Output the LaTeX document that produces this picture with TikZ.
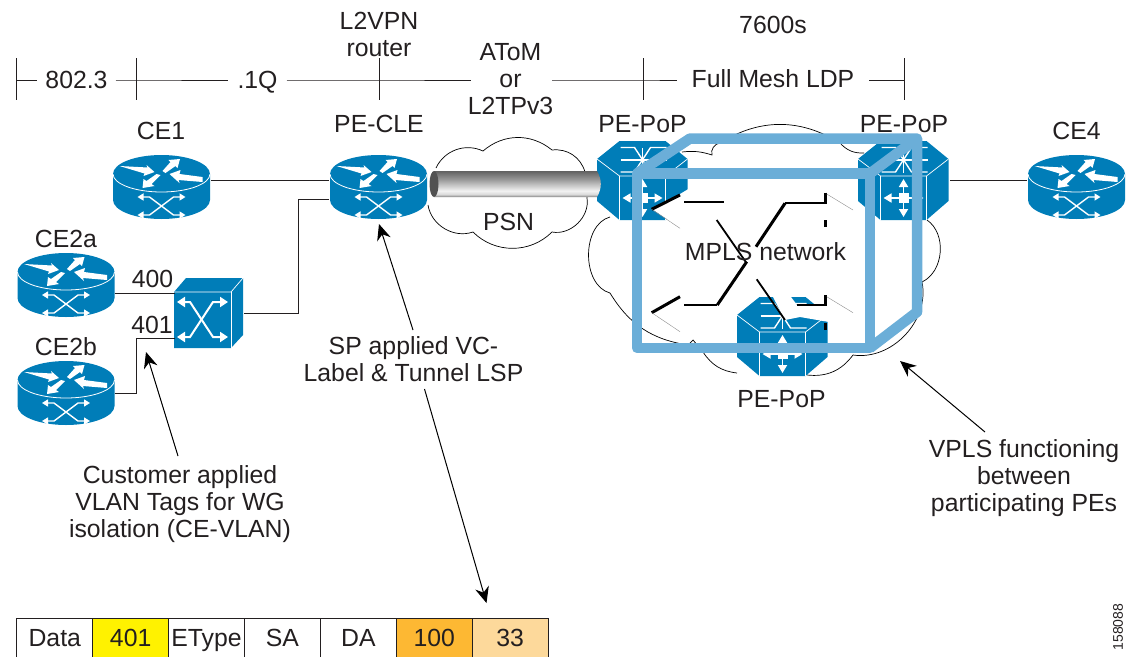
\documentclass[tikz,border=0pt]{standalone}
\usepackage{fontspec}
\setmainfont{Liberation Sans}
\usepackage{tikz}
\usetikzlibrary{arrows.meta, positioning}
\definecolor{ciscoblue}{RGB}{0,125,184}
\definecolor{cubeblue}{RGB}{107,174,216}
\definecolor{inkgray}{RGB}{35,31,32}
\definecolor{tagyellow}{RGB}{255,242,0}
\definecolor{tagorange}{RGB}{253,184,51}
\definecolor{tagpeach}{RGB}{253,217,155}
\pgfdeclareverticalshading{tubeshade}{100bp}{color(0bp)=(black!50); color(25bp)=(black!50); color(30bp)=(black!15); color(37bp)=(black!5); color(45bp)=(black!18); color(60bp)=(black!42); color(75bp)=(black!62); color(100bp)=(black!62)}
\tikzset{
  icon/.style={inner sep=0pt, outer sep=0pt, minimum width=#1},
  lbl/.style={font=\fontsize{24.8}{27}\selectfont, text=inkgray, inner sep=0pt, anchor=base},
  multi/.style={font=\fontsize{24.8}{27}\selectfont, text=inkgray, inner sep=0pt, align=center},
  wire/.style={draw=inkgray, line width=0.9pt},
  note/.style={draw=black, line width=1pt, -{Stealth[length=16pt,width=14pt]}},
  cloudline/.style={draw=black, line width=0.7pt},
  frag/.style={draw=black, line width=3pt},
  fragthin/.style={draw=black, line width=1.8pt},
  fraggray/.style={draw=black!45, line width=0.4pt},
  cell/.style={draw=inkgray, line width=0.9pt, minimum width=75.9pt, minimum height=42pt, inner sep=0pt, outer sep=0pt, text height=14pt, text depth=0pt, font=\fontsize{24.8}{27}\selectfont, text=inkgray},
  router/.pic={
    % body and top of the router
    \fill[ciscoblue] (-48.5,-13) arc[start angle=180, end angle=0, x radius=48.5, y radius=-19] -- (48.5,13) arc[start angle=0, end angle=-180, x radius=48.5, y radius=-19] -- cycle;
    \draw[white, line width=0.8pt] (-48.5,-13) arc[start angle=180, end angle=360, x radius=48.5, y radius=-18];
    % four arrows on the top
    \fill[white] (-42,-21) -- (-14,-19.5) -- (-15,-22) -- (-7,-15) -- (-18,-11) -- (-17,-13.5) -- cycle;
    \fill[white] (1,-16) -- (9,-25) -- (7,-27) -- (18.5,-28) -- (16,-19) -- (14,-21) -- (4,-14) -- cycle;
    \fill[white] (41,-10) -- (41,-5) -- (17,-7) -- (18,-4) -- (8,-13) -- (19,-17) -- (18,-13) -- cycle;
    \fill[white] (-1,-12) -- (-10,-3) -- (-7,-1) -- (-19,1) -- (-18,-8) -- (-15,-6) -- (-5,-13) -- cycle;
    % crossing arrows on the side
    \draw[white, line width=1.4pt, {Triangle[length=6pt,width=7pt]}-{Triangle[length=6pt,width=7pt]}] (-24,10) -- (-12,10) -- (12,28) -- (24,28);
    \draw[white, line width=1.4pt, {Triangle[length=6pt,width=7pt]}-{Triangle[length=6pt,width=7pt]}] (-24,28) -- (-12,28) -- (12,10) -- (24,10);
  },
  switchbox/.pic={
    \fill[ciscoblue] (-35,-21) -- (-23,-35) -- (34,-35) -- (34,22) -- (22,35) -- (-35,35) -- cycle;
    \draw[white, line width=0.7pt] (-35,-21) -- (22,-21) -- (34,-35);
    \draw[white, line width=0.7pt] (22,-21) -- (22,35);
    \draw[white, line width=2pt, {Triangle[length=8pt,width=10pt]}-{Triangle[length=8pt,width=10pt]}] (-32,-11) -- (-19,-11) -- (4,24) -- (19,24);
    \draw[white, line width=2pt, {Triangle[length=8pt,width=10pt]}-{Triangle[length=8pt,width=10pt]}] (-32,24) -- (-19,24) -- (4,-11) -- (19,-11);
  },
  popbox/.pic={
    \fill[ciscoblue] (-23,-40) -- (23,-40) -- (45,-22) -- (45,20) -- (23,39) -- (-23,39) -- (-45.5,20) -- (-45.5,-22) -- cycle;
    \draw[white, line width=0.7pt] (-45.5,-22) -- (-23,-5) -- (23,-5) -- (45,-22);
    \draw[white, line width=0.7pt] (-23,-5) -- (-23,39) (23,-5) -- (23,39);
    % star on the top
    \draw[white, line width=1.4pt] (-22,-33.5) -- (-8,-33.5) -- (8,-9) -- (24,-9);
    \draw[white, line width=1.4pt] (-22,-9) -- (-8,-9) -- (8,-33.5) -- (24,-33.5);
    \draw[white, line width=1.4pt] (-22,-21) -- (24,-21) (0,-33) -- (0,-8);
    % arrows in the front
    \draw[white, line width=1.7pt, {Triangle[length=8pt,width=9pt]}-{Triangle[length=8pt,width=9pt]}] (-20,17) -- (20,17);
    \draw[white, line width=1.7pt, {Triangle[length=8pt,width=9pt]}-{Triangle[length=8pt,width=9pt]}] (0,-2) -- (0,36);
    \fill[white] (-5,12) rectangle (5,22);
  }
}

\begin{document}
\begin{tikzpicture}[x=1pt, y=-1pt]
    \useasboundingbox (0,0) rectangle (1132,656);

    % PSN cloud
    \draw[cloudline] (436,168) to[bend left=45] (483,151) to[bend left=40] (552,150) to[bend left=40] (585,172)
        to[bend left=10] (587,198) to[bend left=55] (552,232) to[bend left=45] (473,232) to[bend left=50] (428,205);
    % MPLS cloud
    \draw[cloudline] (610,293) to[bend left=75] (610,217);
    \draw[cloudline] (682,152) to[bend left=12] (712,155) to[bend left=50] (720,143) to[bend left=32] (840,143) to[bend right=25] (864,153);
    \draw[cloudline] (927,220) to[bend left=60] (922,282) to[bend left=55] (853,355) to[bend left=30] (807,375);
    \draw[cloudline] (737,373) to[bend left=25] (703,352) -- (693,340) -- (688,345) to[bend left=25] (610,293);

    % routers
    \node[icon=97pt] (ce1) at (161.5,187) {}; \pic at (ce1) {router};
    \node[icon=97pt] (pecle) at (378.5,187) {}; \pic at (pecle) {router};
    \node[icon=97pt] (ce2a) at (66,285) {}; \pic at (ce2a) {router};
    \node[icon=97pt] (ce2b) at (66,393) {}; \pic at (ce2b) {router};
    \node[icon=97pt] (ce4) at (1076.5,187) {}; \pic at (ce4) {router};
    % switch between CE2 and PE-CLE
    \node[icon=69pt] (sw) at (209,313) {}; \pic at (sw) {switchbox};
    % the three PE-PoP boxes
    \node[icon=91pt] (popa) at (642.5,181) {}; \pic at (popa) {popbox};
    \node[icon=91pt] (popb) at (903.5,181) {}; \pic at (popb) {popbox};
    \node[icon=91pt] (popc) at (782.5,337) {}; \pic at (popc) {popbox};

    % tunnel through PSN
    \shade[shading=tubeshade] (434,171) -- (597,171) to[bend left=30] (597,197) -- (434,197) -- cycle;
    \fill[black!68] (434,184) ellipse (4.5 and 13);

    % links
    \draw[wire] ([yshift=7pt,xshift=1pt]ce1.east) -- ([yshift=7pt,xshift=-1pt]pecle.west);
    \draw[wire] ([yshift=-12pt,xshift=-1pt]pecle.west) -- ++(-31,0) |- (sw.east);
    \draw[wire] ([yshift=-8pt]ce2a.east) -- ([yshift=20pt]sw.west);
    \draw[wire] (ce2b.east) -- ++(22,0) |- ([yshift=-25pt]sw.west);
    \draw[wire] ([yshift=1pt,xshift=1pt]popb.east) -- ([yshift=7pt,xshift=-1pt]ce4.west);

    % white gaps left by the mesh
    \fill[white] (652,209) -- (680,194) -- (690,188) -- (690,232) -- (680,228) -- cycle;
    \fill[white] (773,297) -- (791,297) -- (797,305) -- (829,305) -- (829,322) -- (800,317) -- (785,320) -- cycle;

    % mesh fragments
    \draw[frag] (651.7,209.3) -- (680,195);
    \draw[fragthin] (684,202.3) -- (724,202.3);
    \draw[fraggray] (651.7,209.3) -- (680,228.3);
    \draw[fragthin] (716.7,220) -- (746.7,263.3);
    \draw[frag] (746.7,261.7) -- (717.3,305);
    \draw[fragthin] (717.3,305) -- (684,305);
    \draw[frag] (680,296.7) -- (651.7,312.7);
    \draw[fraggray] (651.7,312.7) -- (680,331.7);
    \draw[frag] (756,246.7) -- (785,203.3);
    \draw[fragthin] (785,203.3) -- (826.7,203.3);
    \draw[frag] (825,192.7) -- (825,203.3);
    \draw[fraggray] (826.7,194) -- (853,210);
    \draw[frag] (825,220) -- (825,227.3);
    \draw[fragthin] (756.7,279.3) -- (785,320);
    \draw[fragthin] (796.7,305) -- (826.7,305);
    \draw[frag] (825,295) -- (825,305);
    \draw[frag] (825,323) -- (825,330);
    \draw[fraggray] (826.7,296.7) -- (853,312.7);

    % cube around the MPLS network
    \draw[cubeblue, line width=10.5pt, line join=round] (637,173.5) rectangle (870,348);
    \draw[cubeblue, line width=10.5pt, line join=round] (637,173.5) -- (690,138.5) -- (917,138.5) -- (917,312) -- (870,348);
    \draw[cubeblue, line width=10.5pt, line join=round] (870,173.5) -- (917,138.5);

    % labels of the devices
    \node[lbl] (lce1) at (161,139) {CE1};
    \node[lbl] (lpecle) at (379,132) {PE-CLE};
    \node[lbl] (lce2a) at (66,247) {CE2a};
    \node[lbl] (lce2b) at (66,355) {CE2b};
    \node[lbl] (lce4) at (1076.5,139) {CE4};
    \node[lbl] (lpopa) at (642.5,132) {PE-PoP};
    \node[lbl] (lpopb) at (904,132) {PE-PoP};
    \node[lbl] (lpopc) at (781.5,407) {PE-PoP};
    \node[lbl] (lvlana) at (152.5,287) {400};
    \node[lbl] (lvlanb) at (152,333) {401};
    \node[lbl] (lpsn) at (508.5,230) {PSN};
    \node[lbl] (lmpls) at (765.5,260) {MPLS network};

    % scale along the top
    \coordinate (ticka) at (16.8,80);
    \coordinate (tickb) at (136.4,80);
    \coordinate (tickc) at (379,80);
    \coordinate (tickd) at (643,80);
    \coordinate (ticke) at (904,80);
    \node[lbl, inner xsep=8pt] (leth) at (76.5,88) {802.3};
    \node[lbl, inner xsep=9pt] (ldot) at (257.5,88) {.1Q};
    \node[lbl, inner xsep=14.5pt] (lfull) at (773,87) {Full Mesh LDP};
    \node[multi] (latom) at (510.5,79) {AToM\\or\\L2TPv3};
    \node[multi] (lvpn) at (379,34) {L2VPN\\router};
    \node[lbl] (lsevn) at (773,33) {7600s};
    \draw[wire] (ticka) -- (leth.west |- ticka) (leth.east |- ticka) -- (tickb) -- (ldot.west |- ticka);
    \draw[wire] (ldot.east |- ticka) -- (tickc) -- ([xshift=3pt]latom.west |- ticka);
    \draw[wire] ([xshift=-1pt]latom.east |- ticka) -- (tickd) -- (lfull.west |- ticka);
    \draw[wire] (lfull.east |- ticka) -- (ticke);
    \foreach \t in {ticka, tickb, tickc, tickd, ticke} {
        \draw[wire] (\t) ++(0,-22) -- ++(0,42);
    }

    % notes and their arrows
    \node[multi] (lsp) at (413.5,359.5) {SP applied VC-\\Label \& Tunnel LSP};
    \node[multi] (lcust) at (180,504.5) {Customer applied\\VLAN Tags for WG\\isolation (CE-VLAN)};
    \node[multi] (lvpls) at (1024,478) {VPLS functioning\\between\\participating PEs};
    \coordinate (tippe) at (379,224);
    \coordinate (tiptag) at (486.5,603);
    \coordinate (tipsw) at (146,352);
    \coordinate (tipcloud) at (900,361);
    \coordinate (tailpe) at (413,330);
    \coordinate (tailtag) at (424.5,389);
    \coordinate (tailsw) at (178,456);
    \coordinate (tailcloud) at (985,432);
    \draw[note] (tailpe) -- (tippe);
    \draw[note] (tailtag) -- (tiptag);
    \draw[note] (tailsw) -- (tipsw);
    \draw[note] (tailcloud) -- (tipcloud);

    % frame of the tags
    \node[cell, anchor=north west] (cdata) at (16.8,618) {Data};
    \node[cell, fill=tagyellow, right=0pt of cdata] (ctag) {401};
    \node[cell, right=0pt of ctag] (ctype) {EType};
    \node[cell, right=0pt of ctype] (csa) {SA};
    \node[cell, right=0pt of csa] (cda) {DA};
    \node[cell, fill=tagorange, right=0pt of cda] (ctun) {100};
    \node[cell, fill=tagpeach, right=0pt of ctun] (cvc) {33};

    % figure number
    \node[rotate=90, font=\fontsize{14}{16}\selectfont, text=inkgray, inner sep=0pt] (lfig) at (1118,627) {158088};
\end{tikzpicture}
\end{document}
